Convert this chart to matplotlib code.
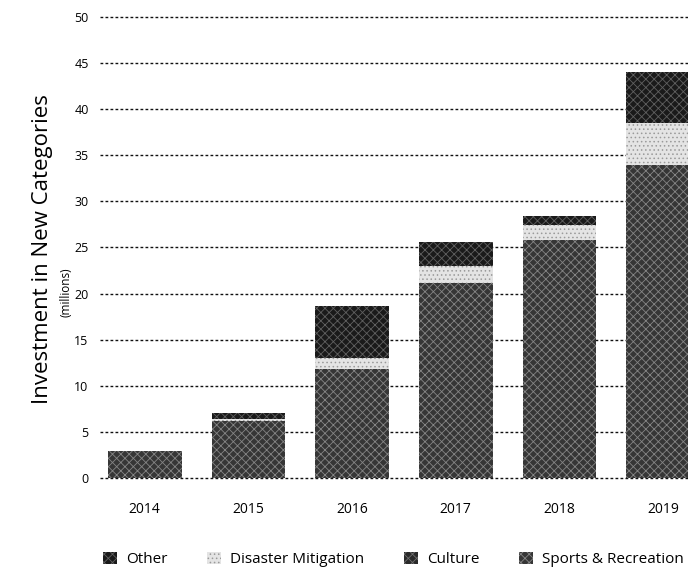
import matplotlib
matplotlib.use("Agg")
import matplotlib.pyplot as plt
import numpy as np

plt.rcParams["font.family"] = ["Open Sans", "DejaVu Sans"]
plt.rcParams["hatch.linewidth"] = 0.6

# --- data (millions) ---
years = ["2014", "2015", "2016", "2017", "2018", "2019"]
sports_rec = [2.95, 6.2, 11.8, 21.1, 25.8, 33.9]
culture = [0, 0, 0, 0, 0, 0]
disaster = [0, 0.15, 1.2, 1.9, 1.6, 4.6]
other = [0, 0.65, 5.7, 2.6, 1.0, 5.5]

fig = plt.figure(figsize=(6.88, 5.72), dpi=100)
ax = fig.add_axes([0.145, 0.1612, 0.855, 0.8124])

x = np.arange(len(years))
w = 0.71

# stacked bottom -> top: Sports & Recreation, Culture, Disaster Mitigation, Other
series = [
    ("Sports & Recreation", sports_rec, "#363636", "#858585", "xxxx"),
    ("Culture", culture, "#2a2a2a", "#6e6e6e", "xxxx"),
    ("Disaster Mitigation", disaster, "#e4e4e4", "#9a9a9a", "...."),
    ("Other", other, "#1a1a1a", "#606060", "xxxx"),
]

bottom = np.zeros(len(years))
handles = {}
for name, vals, fc, hc, hatch in series:
    vals = np.array(vals, dtype=float)
    b = ax.bar(x, vals, w, bottom=bottom, color=fc, edgecolor=hc,
               hatch=hatch, linewidth=0, zorder=3)
    handles[name] = b
    bottom += vals

ax.set_xlim(-0.434, 5.241)
ax.set_ylim(-0.2, 50.2)
ax.set_yticks(np.arange(0, 51, 5))
ax.set_xticks(x)
ax.set_xticklabels(years, fontsize=10)
ax.tick_params(axis="both", length=0)
ax.tick_params(axis="y", labelsize=9, pad=8)
ax.tick_params(axis="x", pad=16)
ax.yaxis.grid(True, color="#111111", linestyle=(0, (2, 1.6)), linewidth=1.0, zorder=0)
ax.set_axisbelow(True)
for s in ax.spines.values():
    s.set_visible(False)

fig.text(0.062, 0.565, "Investment in New Categories", rotation=90,
         ha="center", va="center", fontsize=16)
fig.text(0.096, 0.49, "(millions)", rotation=90, ha="center", va="center", fontsize=8.5)

order = ["Other", "Disaster Mitigation", "Culture", "Sports & Recreation"]
fig.legend([handles[n] for n in order], order, loc="center", ncol=4,
           bbox_to_anchor=(0.572, 0.022), frameon=False, fontsize=11,
           handlelength=0.9, handleheight=0.9, handletextpad=0.6, columnspacing=2.6)

fig.savefig("out.png", dpi=100)
